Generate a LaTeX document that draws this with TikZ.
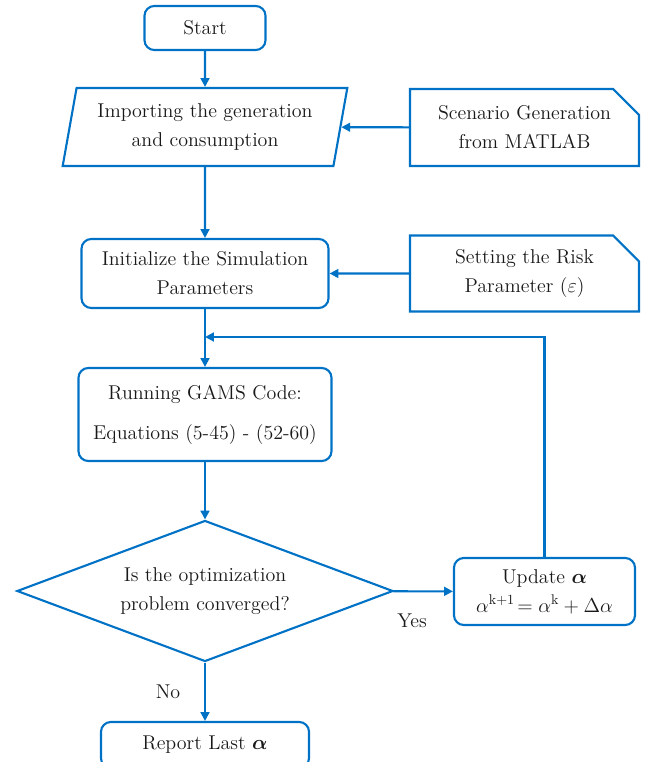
\documentclass[tikz,border=0pt]{standalone}
\usepackage{amsmath}
\usepackage{amssymb}
\usepackage{tikz}
\usetikzlibrary{shapes.geometric,shapes.misc,arrows.meta}
\definecolor{flowblue}{RGB}{0,114,198}

\begin{document}
\begin{tikzpicture}[x=0.025cm,y=-0.025cm,
                flowtext/.style={font=\fontsize{14.2}{20.6}\selectfont,align=center,text=black!90},
                roundbox/.style={flowtext,draw=flowblue,line width=1.5pt,rounded corners=7pt,inner sep=0pt},
                notebox/.style={flowtext,draw=flowblue,line width=1.5pt,chamfered rectangle,chamfered rectangle corners=north east,chamfered rectangle xsep=0.3cm,chamfered rectangle ysep=0.35cm,inner sep=0pt},
                iobox/.style={flowtext,draw=flowblue,line width=1.5pt,trapezium,trapezium left angle=76,trapezium right angle=104,trapezium stretches=true,inner sep=0pt},
                decbox/.style={flowtext,draw=flowblue,line width=1.5pt,diamond,shape aspect=2.67,inner sep=0pt},
                flow/.style={draw=flowblue,line width=1.5pt,-{Triangle[length=2.2mm,width=2.2mm]}}]
                \useasboundingbox (0,0) rectangle (646,762);
                \node [roundbox,minimum width=3.025cm,minimum height=1.1cm] (start) at (205,28) {Start};
                \node [iobox,minimum width=7.125cm,minimum height=1.95cm] (import) at (205,127) {Importing the generation\\and consumption};
                \node [notebox,minimum width=5.725cm,minimum height=1.925cm] (scen) at (524.5,127.5) {Scenario Generation\\from MATLAB};
                \node [roundbox,minimum width=6.175cm,minimum height=1.725cm] (init) at (205,273.5) {Initialize the Simulation\\Parameters};
                \node [notebox,minimum width=5.725cm,minimum height=1.875cm] (risk) at (524.5,273.5) {Setting the Risk\\Parameter ($\varepsilon$)};
                \node [roundbox,minimum width=6.325cm,minimum height=2.325cm] (run) at (205,414.5) {Running GAMS Code:\\[8pt]Equations (5-45) - (52-60)};
                \node [decbox,minimum width=9.4cm,minimum height=3.525cm] (conv) at (205,591) {Is the optimization\\problem converged?};
                \node [roundbox,minimum width=4.525cm,minimum height=1.675cm] (update) at (544.5,591.5) {Update $\boldsymbol{\alpha}$\\$\alpha^{\mathrm{k+1}}\!= \alpha^{\mathrm{k}} + \Delta\alpha$};
                \node [roundbox,minimum width=5.2cm,minimum height=1.15cm] (report) at (205,745) {Report Last $\boldsymbol{\alpha}$};
                \node [flowtext] (yes) at (412,621) {Yes};
                \node [flowtext] (no) at (168,692) {No};
                \coordinate (loop) at (205,337);
                \draw [flow] (start) -- (import);
                \draw [flow] (scen) -- (import);
                \draw [flow] (import) -- (init);
                \draw [flow] (risk) -- (init);
                \draw [flow] (init) -- (run);
                \draw [flow] (run) -- (conv);
                \draw [flow] (conv) -- (update);
                \draw [flow] (update.north) |- (loop);
                \draw [flow] (conv) -- (report);
            \end{tikzpicture}
\end{document}
